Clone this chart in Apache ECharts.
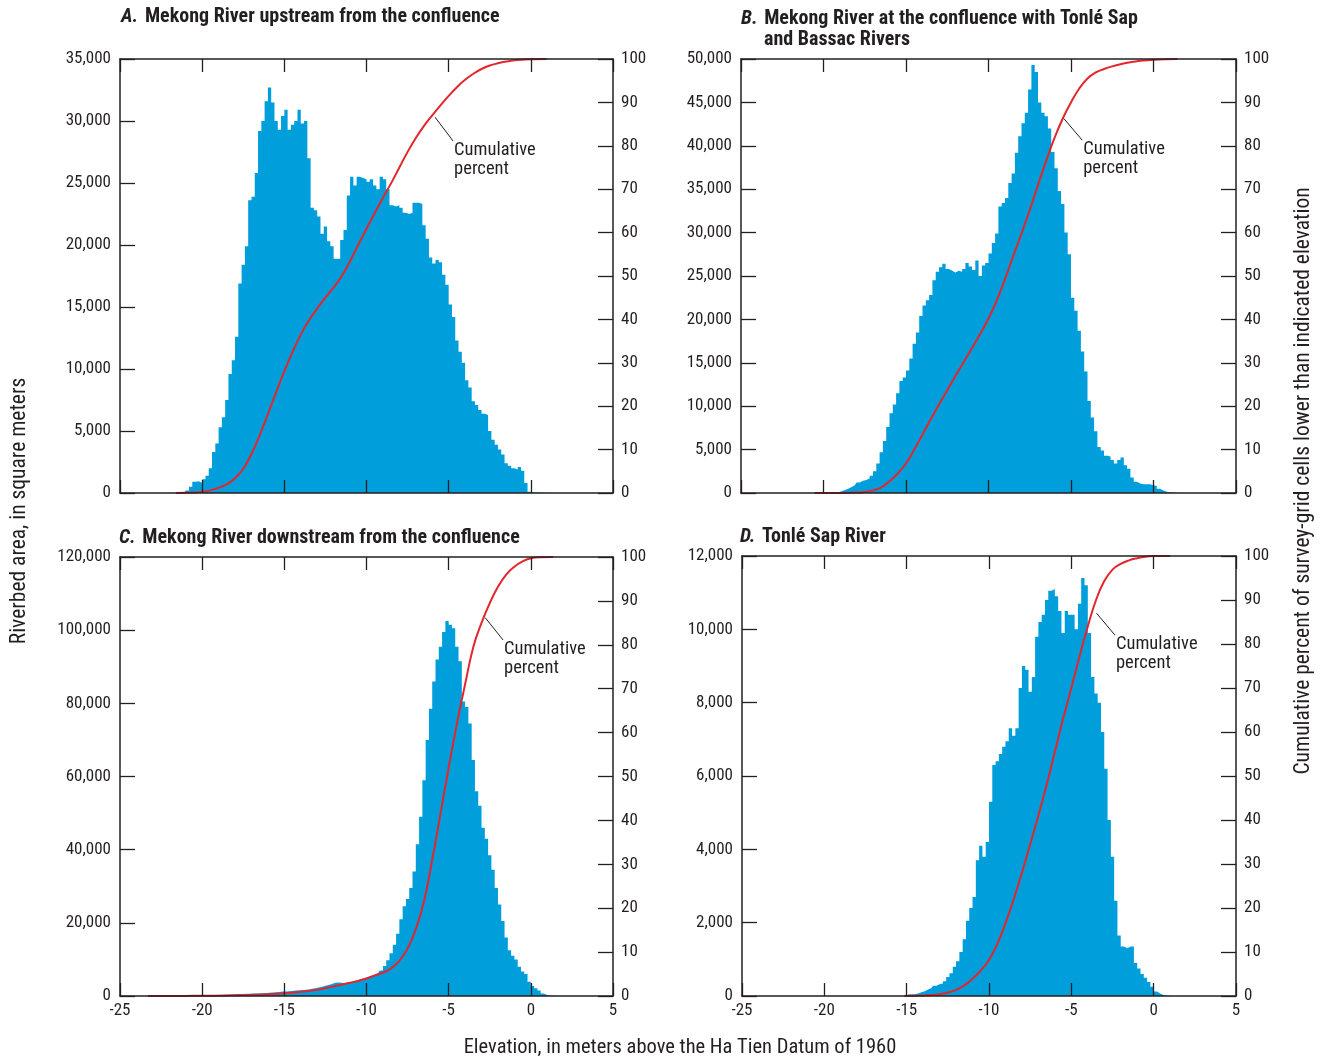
<!DOCTYPE html>
<html><head><meta charset="utf-8">
<script src="https://cdn.jsdelivr.net/npm/echarts@6/dist/echarts.min.js"></script>
<style>html,body{margin:0;padding:0;background:#fff}#c{width:1322px;height:1059px}</style>
</head><body><div id="c"></div>
<script>
// ---------- DATA ----------
// Histogram bins: 0.2 m wide, centers from -24.9 to 4.9
const binWidth = 0.2;
const binFirstCenter = -24.9;
const binCount = 150;

// Panel A: Mekong River upstream from the confluence (first bin center -20.9)
const areaA_start = -20.9;
const areaA = [200,500,900,950,800,1100,1400,2000,3300,4000,5300,6100,7500,9600,10700,12600,16900,18400,19900,23600,23900,25800,29200,30000,31600,32700,31500,30000,29300,30400,30900,29300,29700,30000,30900,29800,30000,27000,23000,22800,22300,20900,21500,20300,19900,18900,18900,20400,21200,24000,25500,24800,25500,25400,25300,25100,25300,24800,24500,25500,25300,24500,23200,23100,23200,23000,22600,22500,22600,23400,23400,23300,21600,20500,19000,18500,18800,18600,17600,16800,15200,14200,12300,11400,10500,9100,8500,7400,7100,6700,6400,6300,5000,4300,3900,3500,3100,2400,2200,2000,1900,2100,1800,800,100,50,50,30,20,10];
const cumA = [[-21.6,0],[-20.5,0.1],[-19.5,0.6],[-18.5,2.0],[-18.0,3.4],[-17.5,5.6],[-17.0,9.0],[-16.5,13.3],[-16.0,18.2],[-15.5,23.2],[-15.0,28.0],[-14.5,32.5],[-14.0,36.5],[-13.5,39.8],[-13.0,42.5],[-12.5,45.0],[-12.0,47.4],[-11.5,50.0],[-11.0,53.4],[-10.5,57.2],[-10.0,60.9],[-9.5,64.5],[-9.0,68.0],[-8.5,71.4],[-8.0,75.0],[-7.5,78.6],[-7.0,81.8],[-6.5,84.6],[-6.0,87.0],[-5.5,89.3],[-5.0,91.5],[-4.5,93.5],[-4.0,95.2],[-3.5,96.6],[-3.0,97.7],[-2.5,98.5],[-2.0,99.0],[-1.5,99.4],[-1.0,99.7],[-0.5,99.85],[0,99.95],[0.95,100]];

// Panel B: Mekong River at the confluence with Tonlé Sap and Bassac Rivers (first center -19.5)
const areaB_start = -19.5;
const areaB = [20,50,100,200,350,500,700,900,1200,1400,1500,1700,2000,2500,3400,4700,6000,7600,9200,10200,11500,12900,13300,14100,15500,17200,18500,20400,21600,22200,22800,24500,25500,26000,26400,25800,25600,25400,25600,25500,25800,26500,26100,25700,26800,25000,26200,26500,27600,28800,29900,33000,33400,34000,35700,36800,39200,41100,42600,43800,46500,49300,48500,45000,43800,43400,42000,39300,37400,34800,33300,30000,27500,22500,21000,18700,16300,14000,10600,8700,7100,5300,4900,4300,4200,3800,3400,3800,4100,3200,2800,1800,1300,1100,1000,1000,1000,900,800,500,300,150,100,50,30];
const cumB = [[-20.55,0],[-19.0,0.02],[-18.0,0.1],[-17.5,0.25],[-17.0,0.6],[-16.5,1.3],[-16.0,2.7],[-15.5,4.5],[-15.0,6.8],[-14.5,10.0],[-14.0,13.5],[-13.5,17.0],[-13.0,20.4],[-12.5,23.7],[-12.0,27.0],[-11.5,30.2],[-11.0,33.4],[-10.5,36.7],[-10.0,40.2],[-9.5,44.4],[-9.0,49.3],[-8.5,54.6],[-8.0,59.8],[-7.5,65.2],[-7.0,71.0],[-6.5,76.6],[-6.0,81.8],[-5.5,86.3],[-5.0,90.0],[-4.5,93.2],[-4.0,95.5],[-3.5,96.9],[-3.0,97.7],[-2.5,98.3],[-2.0,98.8],[-1.5,99.2],[-1.0,99.5],[0,99.85],[1.46,100]];

// Panel C: Mekong River downstream from the confluence (first center -20.9)
const areaC_start = -20.9;
const areaC = [20,30,40,50,60,80,100,130,160,200,230,270,320,370,420,480,520,560,590,620,650,680,720,780,850,900,950,1000,1100,1200,1250,1300,1400,1500,1550,1600,1700,1800,1950,2100,2300,2500,2800,3000,3300,3600,3700,3600,3500,3700,3900,4100,4300,4600,4900,5200,5500,5800,6200,7000,8200,9800,11700,14000,17000,21000,24500,26500,29500,34000,41500,49000,59000,70000,78500,86000,92000,95500,99500,102500,101500,100500,95500,91500,80500,79000,74500,64500,56000,52000,46000,43000,38500,34500,29500,25000,20500,16000,12500,11000,10000,8000,6700,6000,3900,2700,2100,1500,700,300,100,50];
const cumC = [[-23.3,0],[-21.0,0.02],[-20.0,0.05],[-18.0,0.15],[-16.0,0.4],[-15.0,0.6],[-14.0,0.95],[-13.0,1.4],[-12.0,2.2],[-11.0,3.0],[-10.0,4.0],[-9.5,4.7],[-9.0,5.3],[-8.5,6.3],[-8.0,8.0],[-7.5,10.8],[-7.0,15.2],[-6.5,21.6],[-6.0,31.0],[-5.5,41.5],[-5.0,52.0],[-4.5,62.0],[-4.0,71.0],[-3.5,79.5],[-3.0,85.0],[-2.5,89.5],[-2.0,93.2],[-1.5,96.0],[-1.0,97.8],[-0.5,99.0],[0,99.7],[0.5,99.95],[1.36,100]];

// Panel D: Tonlé Sap River (first center -14.9)
const areaD_start = -14.9;
const areaD = [40,50,50,70,100,130,180,220,280,320,340,400,520,620,800,950,1200,1550,2050,2400,2700,3700,4100,3800,4200,5300,6300,6400,6600,6800,6950,7300,7100,7300,8400,9000,8900,8300,8700,9800,10200,10400,10800,11050,11100,10900,10500,9900,10500,10400,10400,10000,10700,11400,11200,9900,8700,8250,8000,7200,6200,4800,3800,2600,1650,1350,1300,1350,1350,900,750,600,500,380,250,120,70,30,15];
const cumD = [[-15.15,0],[-14.0,0.1],[-13.5,0.2],[-13.0,0.4],[-12.5,0.8],[-12.0,1.4],[-11.5,2.4],[-11.0,3.9],[-10.5,5.8],[-10.0,8.2],[-9.5,11.8],[-9.0,16.5],[-8.5,22.0],[-8.0,28.0],[-7.5,34.5],[-7.0,41.0],[-6.5,48.0],[-6.0,55.5],[-5.5,63.0],[-5.0,70.0],[-4.5,77.2],[-4.0,84.0],[-3.5,90.0],[-3.0,94.3],[-2.5,96.9],[-2.0,98.2],[-1.5,99.0],[-1.0,99.5],[-0.5,99.85],[0,100],[1.0,100]];

// Left axis scales
const leftMax = [35000, 50000, 120000, 12000];
const leftInterval = [5000, 5000, 20000, 2000];

// Titles and labels
const titleLetters = ['A.', 'B.', 'C.', 'D.'];
const titleTexts = ['Mekong River upstream from the confluence', 'Mekong River at the confluence with Tonlé Sap', 'Mekong River downstream from the confluence', 'Tonlé Sap River'];
const titleB2 = 'and Bassac Rivers';
const leftTitle = 'Riverbed area, in square meters';
const rightTitle = 'Cumulative percent of survey-grid cells lower than indicated elevation';
const bottomTitle = 'Elevation, in meters above the Ha Tien Datum of 1960';
const annoText = ['Cumulative', 'percent'];
// Leader lines [elevation, percent] start -> end
const leaders = [
  [[-5.83, 86.6], [-4.73, 81.1]],
  [[-5.44, 86.3], [-4.32, 81.3]],
  [[-2.78, 86.2], [-1.69, 81.1]],
  [[-3.47, 87.0], [-2.35, 82.0]]
];

// ---------- BUILD ----------
const FONT = '"Liberation Sans Narrow","Roboto Condensed","DejaVu Sans Condensed",Roboto,sans-serif';
const INK = '#231f20';
const BLUE = '#009edb';
const RED = '#e3262b';

const cats = [];
for (let i = 0; i < binCount; i++) cats.push((binFirstCenter + binWidth * i).toFixed(1));

// full-length histogram (empty bins = 0) so the stepped area is one continuous shape
function histData(start, vals) {
  const arr = new Array(binCount).fill(0);
  const i0 = Math.round((start - binFirstCenter) / binWidth);
  vals.forEach((v, k) => { arr[i0 + k] = v; });
  return arr;
}

const grids = [
  {left: 120, top: 59, width: 493, height: 434},
  {left: 741, top: 59, width: 495, height: 434},
  {left: 120, top: 557, width: 493, height: 439},
  {left: 742, top: 556, width: 494, height: 440}
];

const areas = [histData(areaA_start, areaA), histData(areaB_start, areaB), histData(areaC_start, areaC), histData(areaD_start, areaD)];
const cums = [cumA, cumB, cumC, cumD];

const axisLine = {show: true, onZero: false, lineStyle: {color: INK, width: 1.5}};
const xAxes = [], yAxes = [], series = [];
grids.forEach((g, p) => {
  xAxes.push({type: 'category', gridIndex: p, data: cats, show: false, boundaryGap: true});
  xAxes.push({type: 'value', gridIndex: p, position: 'bottom', min: -25, max: 5, interval: 5,
    axisLine: axisLine, axisTick: {show: true, inside: true, length: 13, lineStyle: {color: INK, width: 1.3}},
    axisLabel: {show: p >= 2, color: INK, fontFamily: FONT, fontSize: 17, margin: 6},
    splitLine: {show: false}, z: 6});
  xAxes.push({type: 'value', gridIndex: p, position: 'top', min: -25, max: 5, interval: 5,
    axisLine: axisLine, axisTick: {show: true, inside: true, length: 13, lineStyle: {color: INK, width: 1.3}},
    axisLabel: {show: false}, splitLine: {show: false}, z: 6});
  yAxes.push({type: 'value', gridIndex: p, position: 'left', min: 0, max: leftMax[p], interval: leftInterval[p],
    axisLine: axisLine, axisTick: {show: true, inside: true, length: 15, lineStyle: {color: INK, width: 1.3}},
    axisLabel: {color: INK, fontFamily: FONT, fontSize: 17, margin: 9, formatter: v => v.toLocaleString('en-US')},
    splitLine: {show: false}, z: 6});
  yAxes.push({type: 'value', gridIndex: p, position: 'right', min: 0, max: 100, interval: 10,
    axisLine: axisLine, axisTick: {show: true, inside: true, length: 15, lineStyle: {color: INK, width: 1.3}},
    axisLabel: {color: INK, fontFamily: FONT, fontSize: 17, margin: 8},
    splitLine: {show: false}, z: 6});
  // histogram: stepped area, one bin per category
  series.push({type: 'line', step: 'middle', xAxisIndex: 3 * p, yAxisIndex: 2 * p, data: areas[p],
    showSymbol: false, symbol: 'none', lineStyle: {width: 0, color: BLUE},
    areaStyle: {color: BLUE, opacity: 1}, silent: true, z: 2});
  series.push({type: 'line', xAxisIndex: 3 * p + 1, yAxisIndex: 2 * p + 1, data: cums[p], smooth: 0.45,
    showSymbol: false, symbol: 'none', lineStyle: {color: RED, width: 2}, silent: true, z: 4});
  series.push({type: 'line', xAxisIndex: 3 * p + 1, yAxisIndex: 2 * p + 1, data: leaders[p],
    showSymbol: false, symbol: 'none', lineStyle: {color: INK, width: 1}, silent: true, z: 5});
});

const chart = echarts.init(document.getElementById('c'), null, {renderer: 'canvas'});
chart.setOption({
  animation: false,
  backgroundColor: '#fff',
  grid: grids.map(g => Object.assign({containLabel: false}, g)),
  xAxis: xAxes, yAxis: yAxes, series: series
});

// Text graphics
const graphics = [];
const titlePos = [[121, 17], [741, 19], [119, 538], [740, 537]];
titlePos.forEach((pos, p) => {
  graphics.push({type: 'text', x: pos[0], y: pos[1], style: {
    text: '{i|' + titleLetters[p] + '}  {b|' + titleTexts[p] + '}', verticalAlign: 'middle',
    rich: {i: {fontFamily: FONT, fontSize: 20, fontWeight: 'bold', fontStyle: 'italic', fill: INK},
           b: {fontFamily: FONT, fontSize: 20, fontWeight: 'bold', fill: INK}}}});
});
graphics.push({type: 'text', x: 764, y: 40, style: {text: titleB2, fontFamily: FONT, fontSize: 20, fontWeight: 'bold', fill: INK, verticalAlign: 'middle'}});
graphics.push({type: 'text', x: 20, y: 511, rotation: Math.PI / 2, style: {text: leftTitle, fontFamily: FONT, fontSize: 21.5, fill: INK, align: 'center', verticalAlign: 'middle'}});
graphics.push({type: 'text', x: 1304, y: 481, rotation: Math.PI / 2, style: {text: rightTitle, fontFamily: FONT, fontSize: 21.5, fill: INK, align: 'center', verticalAlign: 'middle'}});
graphics.push({type: 'text', x: 680, y: 1048, style: {text: bottomTitle, fontFamily: FONT, fontSize: 20.5, fill: INK, align: 'center', verticalAlign: 'middle'}});
leaders.forEach((ld, p) => {
  const end = chart.convertToPixel({xAxisIndex: 3 * p + 1, yAxisIndex: 2 * p + 1}, ld[1]);
  graphics.push({type: 'text', x: end[0] + 1, y: end[1] + 9, style: {text: annoText[0], fontFamily: FONT, fontSize: 18.5, fill: INK, align: 'left', verticalAlign: 'middle'}});
  graphics.push({type: 'text', x: end[0] + 1, y: end[1] + 28, style: {text: annoText[1], fontFamily: FONT, fontSize: 18.5, fill: INK, align: 'left', verticalAlign: 'middle'}});
});
chart.setOption({graphic: graphics});
</script></body></html>
